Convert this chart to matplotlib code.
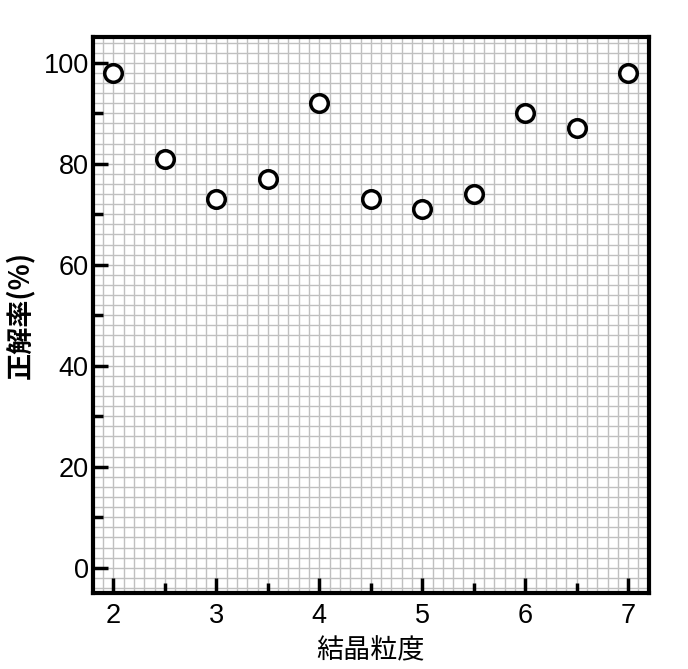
import matplotlib
matplotlib.use('Agg')
import matplotlib.pyplot as plt
from matplotlib.ticker import MultipleLocator

plt.rcParams['font.family'] = ['Liberation Sans', 'Noto Sans CJK JP', 'DejaVu Sans']

# data
grain_size = [2, 2.5, 3, 3.5, 4, 4.5, 5, 5.5, 6, 6.5, 7]
accuracy = [98, 81, 73, 77, 92, 73, 71, 74, 90, 87, 98]

fig = plt.figure(figsize=(6.88, 6.69), dpi=100)
ax = fig.add_axes([0.135, 0.1136, 0.808, 0.8304])

ax.scatter(grain_size, accuracy, s=160, facecolors='white', edgecolors='black',
           linewidths=2.5, zorder=3)

ax.set_xlim(1.8, 7.2)
ax.set_ylim(-5, 105)

# fine grid drawn by hand so it stays under the ticks
for x in [v / 10 for v in range(19, 72)]:
    ax.axvline(x, color='#c0c0c0', lw=1.0, zorder=0.5)
for y in range(-4, 106, 2):
    ax.axhline(y, color='#c0c0c0', lw=1.0, zorder=0.5)

ax.xaxis.set_major_locator(MultipleLocator(1))
ax.yaxis.set_major_locator(MultipleLocator(20))
ax.xaxis.set_minor_locator(MultipleLocator(0.5))
ax.yaxis.set_minor_locator(MultipleLocator(10))
ax.tick_params(which='major', direction='in', length=11, width=2.5,
               labelsize=19.5, top=False, right=False)
ax.tick_params(axis='y', which='major', pad=3)
ax.tick_params(axis='x', which='major', pad=7)
ax.tick_params(which='minor', direction='in', length=7, width=2.5,
               top=False, right=False)

for sp in ax.spines.values():
    sp.set_linewidth(3)
    sp.set_zorder(5)

ax.set_xlabel('結晶粒度', fontsize=19.5, family=['Noto Sans CJK JP'])
ax.set_ylabel('正解率(%)', fontsize=19.5, family=['Noto Sans CJK JP'], fontweight='bold')
ax.xaxis.set_label_coords(0.5, -0.08)
ax.yaxis.set_label_coords(-0.105, 0.5)

fig.savefig('out.png', dpi=100)
